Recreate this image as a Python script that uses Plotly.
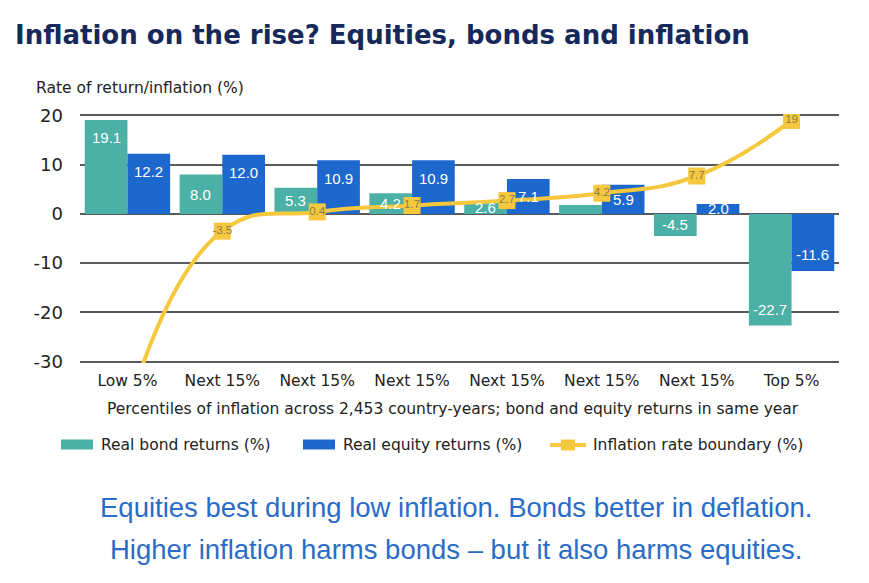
import plotly.graph_objects as go

categories = ["Low 5%", "Next 15%", "Next 15%", "Next 15%", "Next 15%", "Next 15%", "Next 15%", "Top 5%"]
bond_returns = [19.1, 8.0, 5.3, 4.2, 2.6, 1.8, -4.5, -22.7]
bond_labels = ["19.1", "8.0", "5.3", "4.2", "2.6", "", "-4.5", "-22.7"]
equity_returns = [12.2, 12.0, 10.9, 10.9, 7.1, 5.9, 2.0, -11.6]
equity_labels = ["12.2", "12.0", "10.9", "10.9", "7.1", "5.9", "2.0", "-11.6"]
inflation_boundary = [-40.0, -3.5, 0.4, 1.7, 2.7, 4.2, 7.7, 19.0]
inflation_labels = ["", "-3.5", "0.4", "1.7", "2.7", "4.2", "7.7", "19"]
y_ticks = [-30, -20, -10, 0, 10, 20]
y_tick_text = ["-30", "-20", "-10", "0", "10", "20"]

x_idx = list(range(len(categories)))

TEAL = "#4BB0A6"
BLUE = "#1D68CD"
YELLOW = "#F6C83E"
FONT = "DejaVu Sans"
FONT_B = "Liberation Sans"

# figure geometry (page body has an 8px margin)
W, H = 861, 575
ML, MR, MT, MB = 72, 30, 106, 220
PW = W - ML - MR
PH = H - MT - MB


def px(page_x):
    return (page_x - 8 - ML) / PW


def py(page_y):
    return (H - MB - (page_y - 8)) / PH


BAR_HALF = 0.225  # half of a bar slot inside a group (bargap 0.1, two bars)
PX_PER_UNIT = PH / 50.6

fig = go.Figure()
fig.add_trace(go.Bar(
    x=x_idx, y=bond_returns, name="Real bond returns (%)",
    marker=dict(color=TEAL, line=dict(width=0)), showlegend=False,
))
fig.add_trace(go.Bar(
    x=x_idx, y=equity_returns, name="Real equity returns (%)",
    marker=dict(color=BLUE, line=dict(width=0)), showlegend=False,
))
fig.add_trace(go.Scatter(
    x=x_idx, y=inflation_boundary, name="Inflation rate boundary (%)",
    mode="lines+markers+text",
    line=dict(color=YELLOW, width=4, shape="spline", smoothing=1.3),
    marker=dict(symbol="square", size=17, color=YELLOW),
    text=inflation_labels, textposition="middle center",
    textfont=dict(color="#8A7C4E", size=11.5, family=FONT_B),
    cliponaxis=True, showlegend=False,
))

annotations = []


def bar_label(xc, val, label):
    if not label:
        return
    h = abs(val) * PX_PER_UNIT
    if h > 45:
        y = val
        ys = -18 if val > 0 else 16
    else:
        y = val / 2.0
        ys = 0
    annotations.append(dict(x=xc, y=y, xref="x", yref="y", yshift=ys,
                            text=label, showarrow=False,
                            font=dict(color="white", size=15, family=FONT_B)))


for i, (v, lab) in enumerate(zip(bond_returns, bond_labels)):
    bar_label(i - BAR_HALF, v, lab)
for i, (v, lab) in enumerate(zip(equity_returns, equity_labels)):
    bar_label(i + BAR_HALF, v, lab)

TXT = "#222222"
annotations += [
    dict(text="<b>Inflation on the rise? Equities, bonds and inflation</b>",
         xref="paper", yref="paper", x=px(13), xanchor="left",
         y=py(35), yanchor="middle", showarrow=False,
         font=dict(size=26, family="DejaVu Sans", color="#16295A")),
    dict(text="Rate of return/inflation (%)",
         xref="paper", yref="paper", x=px(34), xanchor="left",
         y=py(88), yanchor="middle", showarrow=False,
         font=dict(size=15.5, family=FONT, color=TXT)),
    dict(text="Percentiles of inflation across 2,453 country-years; bond and equity returns in same year",
         xref="paper", yref="paper", x=px(453), xanchor="center",
         y=py(409), yanchor="middle", showarrow=False,
         font=dict(size=15.5, family=FONT, color=TXT)),
    dict(text="Equities best during low inflation. Bonds better in deflation.",
         xref="paper", yref="paper", x=px(456), xanchor="center",
         y=py(507), yanchor="middle", showarrow=False,
         font=dict(size=27.5, family=FONT_B, color="#2A6CC6")),
    dict(text="Higher inflation harms bonds \u2013 but it also harms equities.",
         xref="paper", yref="paper", x=px(456), xanchor="center",
         y=py(549), yanchor="middle", showarrow=False,
         font=dict(size=27.5, family=FONT_B, color="#2A6CC6")),
    # legend texts
    dict(text="Real bond returns (%)", xref="paper", yref="paper",
         x=px(99), xanchor="left", y=py(445), yanchor="middle", showarrow=False,
         font=dict(size=15.5, family=FONT, color=TXT)),
    dict(text="Real equity returns (%)", xref="paper", yref="paper",
         x=px(341), xanchor="left", y=py(445), yanchor="middle", showarrow=False,
         font=dict(size=15.5, family=FONT, color=TXT)),
    dict(text="Inflation rate boundary (%)", xref="paper", yref="paper",
         x=px(591), xanchor="left", y=py(445), yanchor="middle", showarrow=False,
         font=dict(size=15.5, family=FONT, color=TXT)),
]

shapes = [
    dict(type="rect", xref="paper", yref="paper", x0=px(61), x1=px(93),
         y0=py(449.5), y1=py(439.5), fillcolor=TEAL, line=dict(width=0)),
    dict(type="rect", xref="paper", yref="paper", x0=px(303), x1=px(335),
         y0=py(449.5), y1=py(439.5), fillcolor=BLUE, line=dict(width=0)),
    dict(type="line", xref="paper", yref="paper", x0=px(550), x1=px(586),
         y0=py(445), y1=py(445), line=dict(color=YELLOW, width=4)),
    dict(type="rect", xref="paper", yref="paper", x0=px(561), x1=px(575),
         y0=py(450.5), y1=py(439.5), fillcolor=YELLOW, line=dict(width=0)),
]

fig.update_layout(
    width=W, height=H,
    margin=dict(l=ML, r=MR, t=MT, b=MB, pad=0),
    paper_bgcolor="white", plot_bgcolor="white",
    barmode="group", bargap=0.1, bargroupgap=0,
    font=dict(family=FONT, color=TXT),
    showlegend=False,
    xaxis=dict(
        tickmode="array", tickvals=x_idx, ticktext=categories,
        range=[-0.5, len(categories) - 0.5],
        showgrid=False, zeroline=False, showline=False, ticks="",
        tickfont=dict(size=15.5, family=FONT, color=TXT),
        ticklabelstandoff=6,
    ),
    yaxis=dict(
        range=[-30.3, 20.3], tickmode="array", tickvals=y_ticks, ticktext=y_tick_text,
        showgrid=True, gridcolor="#5A5A5A", gridwidth=1.5,
        zeroline=False, showline=False, ticks="",
        tickfont=dict(size=18, family=FONT, color=TXT),
        ticklabelstandoff=16,
    ),
    annotations=annotations,
    shapes=shapes,
)

fig.write_html("out.html")
